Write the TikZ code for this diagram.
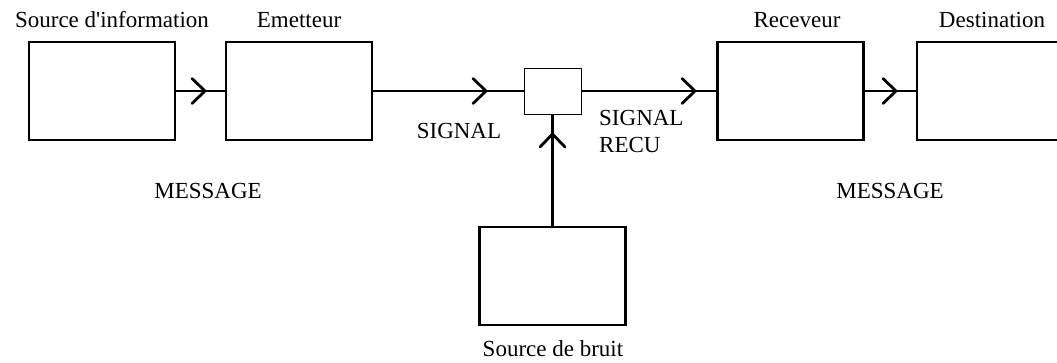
\documentclass[tikz,border=0pt]{standalone}
\usepackage{fontspec}
\setmainfont{Liberation Serif}
\usetikzlibrary{arrows.meta}

\tikzset{
  bloc/.style={draw, line width=2.8pt, minimum width=146pt, minimum height=98pt, inner sep=0pt},
  lien/.style={line width=2.8pt},
  fleche/.style={line width=2.8pt, -{Straight Barb[length=13pt, width=25pt, line cap=round]}},
  etiq/.style={inner sep=0pt, font=\fontsize{23}{27}\selectfont},
}

\begin{document}
\begin{tikzpicture}[x=1pt, y=-1pt]

  %% blocs
  \node[bloc] (source) at (102,91) {};
  \node[bloc] (emetteur) at (299,91) {};
  \node[draw, line width=1pt, minimum width=57pt, minimum height=46pt, inner sep=0pt] (canal) at (552.5,91) {};
  \node[bloc] (receveur) at (790.5,91) {};
  \node[bloc] (destination) at (990,91) {};
  \node[bloc] (bruit) at (552.5,276) {};

  %% pointes au milieu des liens
  \coordinate (p1) at (207,91);
  \coordinate (p2) at (488,91);
  \coordinate (p3) at (697,91);
  \coordinate (p4) at (898,91);
  \coordinate (p5) at (552.5,132);

  %% liens
  \draw[lien] (source.east) -- (emetteur.west);
  \draw[fleche] (source.east) -- (p1);
  \draw[lien] (emetteur.east) -- (canal.west);
  \draw[fleche] (emetteur.east) -- (p2);
  \draw[lien] (canal.east) -- (receveur.west);
  \draw[fleche] (canal.east) -- (p3);
  \draw[lien] (receveur.east) -- (destination.west);
  \draw[fleche] (receveur.east) -- (p4);
  \draw[lien] (bruit.north) -- (canal.south);
  \draw[fleche] (bruit.north) -- (p5);

  %% textes
  \node[etiq] (t1) at (112,20) {Source d\textquotesingle information};
  \node[etiq] (t2) at (299,20) {Emetteur};
  \node[etiq] (t3) at (797,20) {Receveur};
  \node[etiq] (t4) at (992,20) {Destination};
  \node[etiq] (t5) at (459,131) {SIGNAL};
  \node[etiq, align=left, anchor=west] (t6) at (599,131) {SIGNAL\\RECU};
  \node[etiq] (t7) at (208,191) {MESSAGE};
  \node[etiq] (t8) at (890,191) {MESSAGE};
  \node[etiq] (t9) at (553,349) {Source de bruit};

  \pgfresetboundingbox
  \path[use as bounding box] (0,0) rectangle (1057,362);
\end{tikzpicture}
\end{document}
